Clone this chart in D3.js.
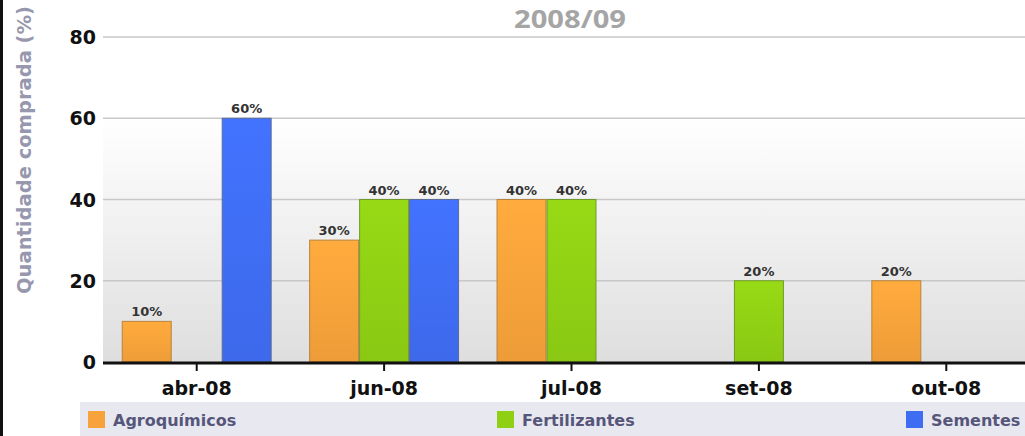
<!DOCTYPE html>
<meta charset="utf-8">
<script src="https://d3js.org/d3.v7.min.js"></script>
<style>
  body { margin: 0; background: #fff; }
  svg { display: block; font-family: "DejaVu Sans", Arial, sans-serif; }
</style>
<div id="chart"></div>
<script>
// data
var months = ["abr-08", "jun-08", "jul-08", "set-08", "out-08"];
var seriesNames = ["Agroquímicos", "Fertilizantes", "Sementes"];
var agroquimicos = [10, 30, 40, null, 20];
var fertilizantes = [null, 40, 40, 20, null];
var sementes = [60, 40, null, null, null];
var yTicks = [0, 20, 40, 60, 80];
var seriesColors = ["#f7a23a", "#8fcf14", "#3f6df2"];
var seriesEdges = ["#b8833f", "#6f9a2a", "#5b6b9a"];

var W = 1025, H = 436;
var margin = {top: 37, right: 0, bottom: 74, left: 103};
var innerH = H - margin.top - margin.bottom;

var svg = d3.select("#chart").append("svg")
    .attr("width", W).attr("height", H);

var defs = svg.append("defs");
var bg = defs.append("linearGradient").attr("id", "bg")
    .attr("x1", 0).attr("y1", 0).attr("x2", 0).attr("y2", 1);
bg.append("stop").attr("offset", "0%").attr("stop-color", "#ffffff");
bg.append("stop").attr("offset", "25%").attr("stop-color", "#ffffff");
bg.append("stop").attr("offset", "100%").attr("stop-color", "#dedede");

seriesColors.forEach(function(c, i) {
  var g = defs.append("linearGradient").attr("id", "bar" + i)
      .attr("x1", 0).attr("y1", 0).attr("x2", 0).attr("y2", 1);
  g.append("stop").attr("offset", "0%").attr("stop-color", d3.color(c).brighter(0.15));
  g.append("stop").attr("offset", "100%").attr("stop-color", d3.color(c).darker(0.1));
});

// left frame line
svg.append("rect").attr("x", 0).attr("y", 0).attr("width", 3).attr("height", H).attr("fill", "#111");

var x = d3.scaleBand()
    .domain(months)
    .range([margin.left, 1040])
    .paddingInner(0.2)
    .paddingOuter(0.1);

var xs = d3.scaleBand()
    .domain(seriesNames)
    .range([0, x.bandwidth()]);

var y = d3.scaleLinear()
    .domain([0, 80])
    .range([margin.top + innerH, margin.top]);

// plot background
svg.append("rect")
    .attr("x", margin.left).attr("y", y(80))
    .attr("width", W - margin.left).attr("height", y(0) - y(80))
    .attr("fill", "url(#bg)");

// grid
svg.append("g").selectAll("line")
  .data(yTicks.filter(function(d) { return d > 0; }))
  .enter().append("line")
    .attr("x1", margin.left).attr("x2", W)
    .attr("y1", function(d) { return y(d); })
    .attr("y2", function(d) { return y(d); })
    .attr("stroke", "#c8c8c8").attr("stroke-width", 1.5);

// y tick labels
svg.append("g").selectAll("text")
  .data(yTicks)
  .enter().append("text")
    .attr("x", 96)
    .attr("y", function(d) { return y(d) + 7; })
    .attr("text-anchor", "end")
    .attr("font-size", 19).attr("font-weight", "bold").attr("fill", "#111")
    .text(function(d) { return d; });

// bars
var allSeries = [agroquimicos, fertilizantes, sementes];
var barData = [];
allSeries.forEach(function(vals, s) {
  vals.forEach(function(v, i) {
    if (v != null) barData.push({month: months[i], s: s, value: v});
  });
});

svg.append("g").selectAll("rect")
  .data(barData)
  .enter().append("rect")
    .attr("x", function(d) { return x(d.month) + xs(seriesNames[d.s]) + 0.5; })
    .attr("y", function(d) { return y(d.value); })
    .attr("width", xs.bandwidth() - 1)
    .attr("height", function(d) { return y(0) - y(d.value); })
    .attr("fill", function(d) { return "url(#bar" + d.s + ")"; })
    .attr("stroke", function(d) { return seriesEdges[d.s]; })
    .attr("stroke-width", 1);

svg.append("g").selectAll("text")
  .data(barData)
  .enter().append("text")
    .attr("x", function(d) { return x(d.month) + xs(seriesNames[d.s]) + xs.bandwidth() / 2; })
    .attr("y", function(d) { return y(d.value) - 5; })
    .attr("text-anchor", "middle")
    .attr("font-size", 13).attr("font-weight", "bold").attr("fill", "#333")
    .text(function(d) { return d.value + "%"; });

// x axis
svg.append("line")
    .attr("x1", margin.left).attr("x2", W)
    .attr("y1", y(0) + 1).attr("y2", y(0) + 1)
    .attr("stroke", "#111").attr("stroke-width", 3);

svg.append("g").selectAll("line")
  .data(months)
  .enter().append("line")
    .attr("x1", function(d) { return x(d) + x.bandwidth() / 2; })
    .attr("x2", function(d) { return x(d) + x.bandwidth() / 2; })
    .attr("y1", y(0) + 2).attr("y2", y(0) + 9)
    .attr("stroke", "#111").attr("stroke-width", 2);

svg.append("g").selectAll("text")
  .data(months)
  .enter().append("text")
    .attr("x", function(d) { return x(d) + x.bandwidth() / 2; })
    .attr("y", 395)
    .attr("text-anchor", "middle")
    .attr("font-size", 19).attr("font-weight", "bold").attr("fill", "#111")
    .text(function(d) { return d; });

// title
svg.append("text")
    .attr("x", 570).attr("y", 28)
    .attr("text-anchor", "middle")
    .attr("font-family", "'Open Sans', sans-serif")
    .attr("font-size", 25).attr("font-weight", "bold").attr("fill", "#a5a5a5")
    .attr("textLength", 112).attr("lengthAdjust", "spacingAndGlyphs")
    .text("2008/09");

// y axis title
svg.append("text")
    .attr("transform", "translate(31,150) rotate(-90)")
    .attr("text-anchor", "middle")
    .attr("font-size", 19).attr("font-weight", "bold").attr("fill", "#9797ad")
    .attr("textLength", 288).attr("lengthAdjust", "spacingAndGlyphs")
    .text("Quantidade comprada (%)");

// legend
svg.append("rect")
    .attr("x", 80).attr("y", 402).attr("width", W - 80).attr("height", 34)
    .attr("fill", "#e8e8f1");

var legendX = [88, 497, 906];
var leg = svg.append("g").selectAll("g")
  .data(seriesNames)
  .enter().append("g")
    .attr("transform", function(d, i) { return "translate(" + legendX[i] + ",411)"; });
leg.append("rect")
    .attr("width", 17).attr("height", 17)
    .attr("fill", function(d, i) { return seriesColors[i]; });
leg.append("text")
    .attr("x", 25).attr("y", 15)
    .attr("font-size", 16).attr("font-weight", "bold").attr("fill", "#56567a")
    .text(function(d) { return d; });
</script>
